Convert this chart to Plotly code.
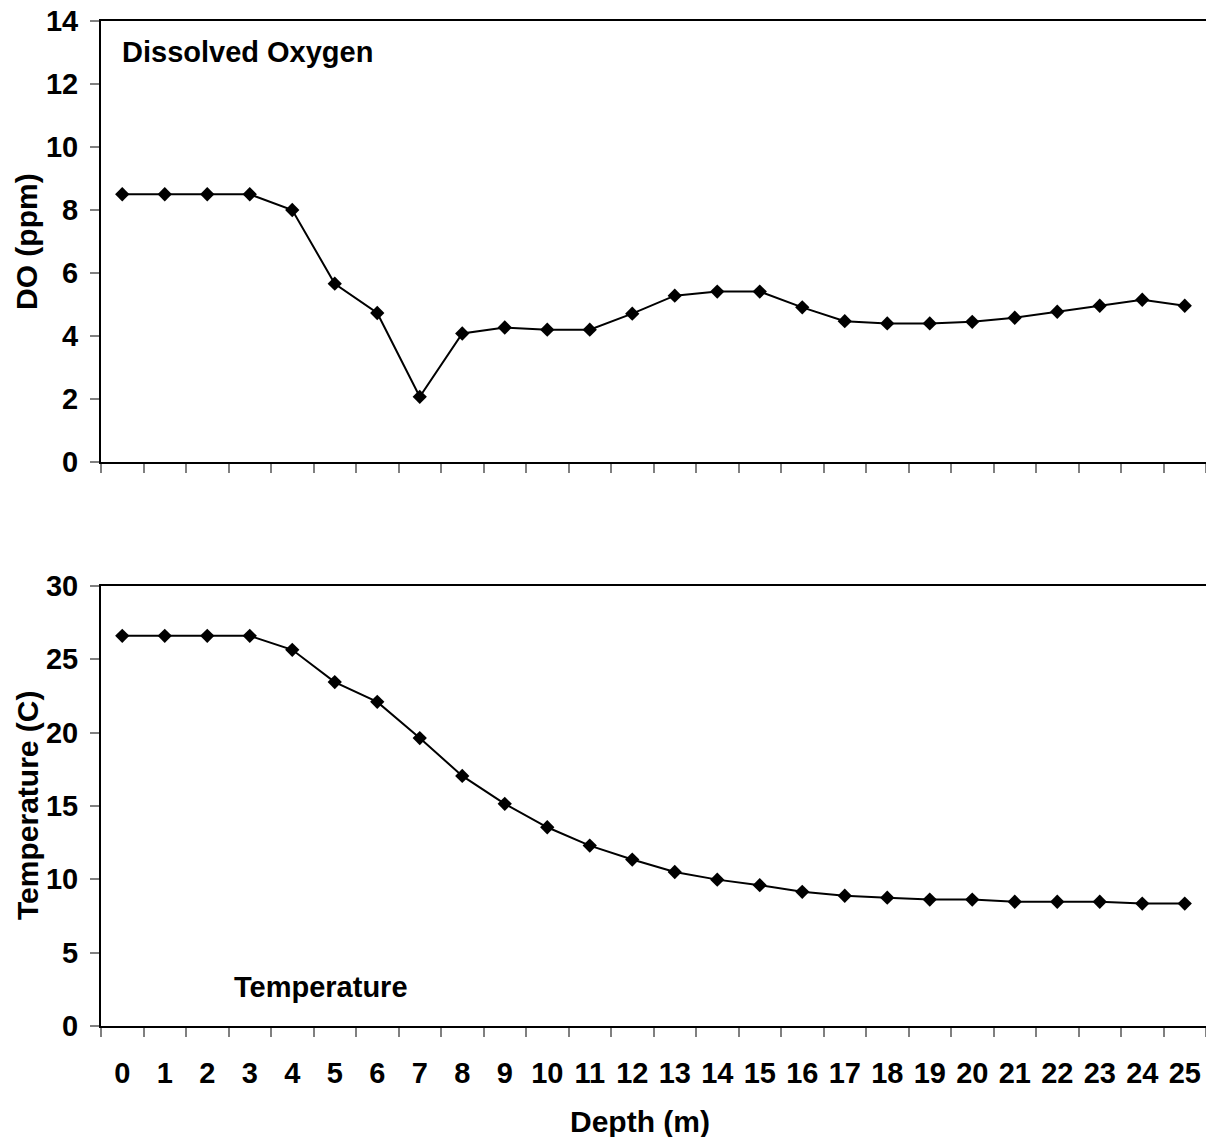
import plotly.graph_objects as go
from plotly.subplots import make_subplots

depth = [str(d) for d in range(26)]
do_ppm = [8.5, 8.5, 8.5, 8.5, 8.0, 5.66, 4.73, 2.07, 4.08, 4.27, 4.2, 4.2, 4.71,
          5.28, 5.41, 5.41, 4.91, 4.47, 4.4, 4.4, 4.45, 4.58, 4.77, 4.96, 5.15, 4.96]
temp_c = [26.6, 26.6, 26.6, 26.6, 25.65, 23.45, 22.1, 19.63, 17.05, 15.15, 13.55,
          12.3, 11.35, 10.5, 9.98, 9.6, 9.15, 8.88, 8.75, 8.62, 8.62, 8.47, 8.47,
          8.47, 8.35, 8.35]

FONT = "Arial, Liberation Sans, sans-serif"

# la page html ajoute une marge de 8px autour de la figure
W, H = 1198, 1129
L, R, T, B = 93, 0, 13, 111
PW = W - L - R
PH = H - T - B


def px(x):
    # position horizontale (pixels de l'écran) -> coordonnée papier
    return (x - 8 - L) / PW


def py(y):
    return (1025 - y) / PH


fig = make_subplots(rows=2, cols=1, vertical_spacing=0.0)

for row, vals in [(1, do_ppm), (2, temp_c)]:
    fig.add_trace(go.Scatter(
        x=depth, y=vals, mode="lines+markers",
        line=dict(color="black", width=2),
        marker=dict(symbol="diamond", size=11, color="black"),
        showlegend=False,
    ), row=row, col=1)

xcommon = dict(
    type="category", range=[-0.5, 25.5], tickson="boundaries",
    ticks="outside", ticklen=9, tickcolor="#808080", tickwidth=1.5,
    showline=True, linecolor="black", linewidth=2, mirror=True,
    showgrid=False, zeroline=False, automargin=False,
    tickfont=dict(family=FONT, size=29, color="black", weight="bold"),
)
fig.update_xaxes(**xcommon)
fig.update_xaxes(showticklabels=False, row=1, col=1)
fig.update_xaxes(ticklabelstandoff=20, row=2, col=1)

ycommon = dict(
    ticks="outside", ticklen=9, tickcolor="#808080", tickwidth=1.5,
    showline=True, linecolor="black", linewidth=2, mirror=True,
    showgrid=False, zeroline=False, ticklabelstandoff=6, automargin=False,
    ticklabeloverflow="allow",
    tickfont=dict(family=FONT, size=29, color="black", weight="bold"),
)
fig.update_yaxes(**ycommon)
fig.update_yaxes(range=[0, 14], dtick=2, row=1, col=1)
fig.update_yaxes(range=[0, 30], dtick=5, row=2, col=1)

fig.update_layout(
    width=W, height=H,
    margin=dict(l=L, r=R, t=T, b=B),
    plot_bgcolor="white", paper_bgcolor="white",
    xaxis=dict(domain=[0, 1]),
    yaxis=dict(domain=[py(461), 1.0]),
    yaxis2=dict(domain=[0.0, py(585)]),
)

title_font = dict(family=FONT, size=30, color="black", weight="bold")
for txt, ypos in [("DO (ppm)", py(241)), ("Temperature (C)", py(805))]:
    fig.add_annotation(text=txt, xref="paper", yref="paper", x=px(27), y=ypos,
                       xanchor="center", yanchor="middle", textangle=-90,
                       showarrow=False, font=title_font)
fig.add_annotation(text="Depth (m)", xref="paper", yref="paper", x=px(640), y=py(1120),
                   xanchor="center", yanchor="middle", showarrow=False, font=title_font)

label_font = dict(family=FONT, size=29, color="black", weight="bold")
fig.add_annotation(text="Dissolved Oxygen", xref="paper", yref="paper",
                   x=px(120), y=py(51), xanchor="left", yanchor="middle",
                   showarrow=False, font=label_font)
fig.add_annotation(text="Temperature", xref="paper", yref="paper",
                   x=px(232), y=py(986), xanchor="left", yanchor="middle",
                   showarrow=False, font=label_font)

fig.write_html("out.html")
